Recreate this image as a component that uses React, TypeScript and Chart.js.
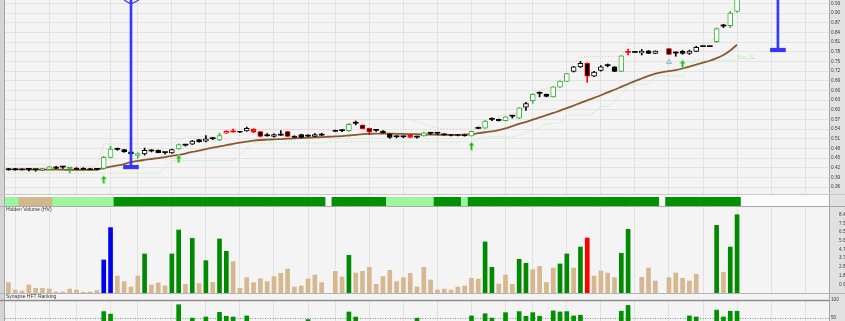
import React, { useEffect, useRef } from 'react';
import { Chart, registerables } from 'chart.js';

Chart.register(...registerables);

// ---------- categories ----------
const CATEGORY_COUNT = 121;
const days: string[] = Array.from({ length: CATEGORY_COUNT }, (_, i) => `D${i + 1}`);
const weekStarts = [1, 6, 10, 15, 19, 24, 29, 34, 39, 44, 48, 53, 58, 63, 68, 73, 77, 82, 87, 92, 97, 102, 107, 112, 117];

// ---------- price series ----------
const openPrices = [
  .417, .417, .416, .415, .414, .413, .415, .423, .422, .418,
  .419, .419, .417, .415, .418, .452, .477, .476, .469, .458,
  .463, .472, .474, .467, .466, .478, .490, .493, .507, .502,
  .510, .506, .527, .531, .532, .534, .540, .532, .519, .517,
  .521, .532, .518, .523, .518, .517, .521, null, .536, .535,
  .535, .558, .552, .542, .536, .534, .524, .516, .516, .521,
  .515, .519, .527, .527, .522, .522, .522, .522, .519, .542,
  .543, .570, .570, .566, .580, .574, .608, .628, .651, .648,
  .640, .670, .688, .719, .733, .744, .704, .722, .737, .733,
  .719, .778, .778, .776, .783, .775, null, .790, .776, .781,
  .775, .781, .796, .796, .811, .860, .861, .905,
];
const highPrices = [
  .418, .418, .417, .415, .414, .416, .424, .424, .422, .419,
  .420, .420, .418, .417, .455, .487, .481, .477, .470, .466,
  .481, .476, .475, .467, .478, .494, .493, .505, .508, .520,
  .514, .527, .535, .540, .533, .546, .541, .533, .526, .525,
  .535, .533, .519, .524, .522, .526, .527, null, .537, .538,
  .557, .565, .553, .543, .539, .535, .525, .519, .518, .524,
  .518, .530, .528, .528, .525, .523, .523, .523, .534, .546,
  .566, .575, .571, .579, .581, .607, .623, .649, .655, .649,
  .672, .690, .713, .735, .750, .746, .719, .737, .742, .734,
  .768, .788, .778, .787, .784, .783, null, .791, .780, .784,
  .785, .797, .796, .796, .854, .865, .905, .970,
];
const lowPrices = [
  .412, .412, .412, .410, .409, .412, .414, .417, .418, .404,
  .414, .414, .413, .413, .415, .450, .474, .468, .461, .450,
  .459, .469, .466, .462, .464, .477, .487, .492, .499, .500,
  .507, .504, .526, .530, .529, .533, .529, .515, .518, .515,
  .520, .516, .513, .513, .517, .516, .520, null, .532, .532,
  .533, .553, .540, .523, .533, .527, .511, .513, .513, .513,
  .512, .518, .523, .523, .521, .519, .519, .518, .518, .541,
  .542, .566, .565, .565, .574, .572, .598, .620, .640, .640,
  .639, .669, .687, .717, .731, .685, .703, .720, .733, .718,
  .718, .770, .778, .770, .774, .774, null, .771, .766, .772,
  .772, .780, .796, .796, .809, .855, .855, .903,
];
const closePrices = [
  .414, .413, .413, .415, .414, .415, .423, .418, .422, .418,
  .415, .415, .414, .415, .452, .478, .477, .469, .463, .464,
  .474, .472, .467, .467, .476, .492, .490, .503, .500, .510,
  .510, .520, .533, .531, .530, .542, .530, .517, .519, .523,
  .521, .517, .514, .514, .518, .523, .521, null, .533, .535,
  .555, .558, .541, .531, .536, .528, .514, .516, .516, .514,
  .515, .528, .527, .527, .522, .520, .520, .519, .533, .542,
  .565, .570, .566, .578, .580, .606, .619, .648, .651, .641,
  .671, .689, .712, .733, .744, .704, .717, .733, .737, .719,
  .767, .778, .778, .782, .775, .782, null, .772, .776, .775,
  .782, .794, .796, .796, .852, .860, .900, .960,
];
const candleStyles = [
  'B', 'B', 'B', 'D', 'D', 'W', 'G', 'B', 'D', 'DG',
  'B', 'B', 'B', 'D', 'G', 'G', 'D', 'B', 'B', 'G',
  'W', 'D', 'B', 'D', 'W', 'G', 'D', 'W', 'B', 'W',
  'D', 'G', 'RH', 'DR', 'B', 'W', 'R', 'RB', 'D', 'W',
  'D', 'RB', 'B', 'B', 'D', 'W', 'D', '', 'B', 'D',
  'G', 'D', 'RB', 'RB', 'D', 'B', 'B', 'D', 'D', 'R',
  'D', 'G', 'D', 'D', 'D', 'B', 'B', 'B', 'G', 'D',
  'G', 'D', 'B', 'G', 'D', 'G', 'W', 'G', 'D', 'B',
  'G', 'G', 'G', 'W', 'W', 'RB', 'W', 'W', 'D', 'B',
  'G', 'DR', 'D', 'W', 'B', 'W', '', 'RB', 'D', 'B',
  'W', 'W', 'D', 'D', 'G', 'D', 'G', 'G',
];
const movingAverage = [
  .415, .415, .415, .414, .414, .414, .414, .414, .414, .413,
  .413, .413, .413, .414, .419, .423, .427, .431, .437, .441,
  .444, .447, .450, .453, .457, .460, .464, .469, .473, .478,
  .482, .486, .490, .494, .498, .501, .504, .506, .507, .508,
  .509, .510, .511, .512, .513, .514, .515, .516, .517, .518,
  .520, .522, .524, .525, .526, .526, .526, .525, .525, .524,
  .524, .523, .523, .522, .522, .522, .522, .523, .524, .527,
  .530, .533, .537, .542, .549, .556, .562, .569, .576, .583,
  .590, .597, .605, .613, .621, .629, .637, .645, .654, .662,
  .671, .680, .689, .697, .705, .712, .717, .720, .723, .728,
  .734, .740, .746, .752, .760, .770, .784, .802,
];
const upperStop = [
  .431, .431, .431, .431, .431, .431, .424, .424, .424, .424,
  .424, .424, .424, .424, .494, .494, .494, .494, .494, .494,
  .494, .494, .494, .494, .494, .506, .515, .515, .515, .515,
  .515, .515, .538, .538, .538, .538, .538, .538, .538, .538,
  .538, .538, .538, .538, .538, .538, .538, .538, .538, .538,
  .555, .569, .569, .569, .569, .569, .569, .569, .569, .569,
  .563, .556, .549, .543, .540, .540, .540, .540, .540, .548,
  .565, .572, .580, .586, .589, .590, .620, .648, .660, .667,
  .670, .690, .720, .745, .762, .765, .765, .765, .765, .765,
  .765, .806, .806, .806, .806, .806, .806, .806, .806, .806,
  .806, .806, .806, .806, .840, .863, .900, .950,
];
const buyStop = [
  .403, .403, .403, .403, .403, .403, .403, .403, .403, .403,
  .403, .403, .403, .403, .403, .403, .403, .403, .403, .403,
  .403, .403, .403, .420, .442, .442, .442, .442, .442, .442,
  .442, .442, .442, .442, .460, .480, .497, .497, .497, .497,
  .497, .497, .497, .497, .497, .497, .496, .500, .500, .500,
  .500, .500, .500, .500, .500, .500, .500, .500, .500, .500,
  .500, .500, .500, .500, .500, .500, .500, .500, .500, .508,
  .516, .516, .516, .516, .516, .520, .528, .535, .545, .556,
  .558, .558, .584, .584, .584, .584, .590, .610, .610, .625,
  .650, .674, .679, .679, .679, .705, .705, .705, .705, .705,
  .740, .754, .754, .754, .754, .754, .754, .754,
];
const arrowIndices = [14, 25, 68, 99];
const arrowPrices = [0.383, 0.447, 0.487, 0.742];
const bellIndex = 97;
const bellPrice = 0.748;
const targetIndices = [18, 113];
const targetLevels = [0.422, 0.7855];
const priceTicks = [0.36, 0.39, 0.42, 0.45, 0.48, 0.51, 0.54, 0.57, 0.60, 0.63, 0.66, 0.69, 0.72, 0.75, 0.78, 0.81, 0.84, 0.87, 0.90, 0.93];
const PRICE_MIN = 0.3352;
const PRICE_MAX = 0.9407;

// ---------- ribbon ----------
const ribbonStates = [
  'L', 'L', 'T', 'T', 'T', 'T', 'T', 'L', 'L', 'L',
  'L', 'L', 'L', 'L', 'L', 'L', 'D', 'D', 'D', 'D',
  'D', 'D', 'D', 'D', 'D', 'D', 'D', 'D', 'D', 'D',
  'D', 'D', 'D', 'D', 'D', 'D', 'D', 'D', 'D', 'D',
  'D', 'D', 'D', 'D', 'D', 'D', 'D', '', 'D', 'D',
  'D', 'D', 'D', 'D', 'D', 'D', 'L', 'L', 'L', 'L',
  'L', 'L', 'L', 'D', 'D', 'D', 'D', 'L', 'D', 'D',
  'D', 'D', 'D', 'D', 'D', 'D', 'D', 'D', 'D', 'D',
  'D', 'D', 'D', 'D', 'D', 'D', 'D', 'D', 'D', 'D',
  'D', 'D', 'D', 'D', 'D', 'D', '', 'D', 'D', 'D',
  'D', 'D', 'D', 'D', 'D', 'D', 'D', 'D',
];

// ---------- hidden volume (millions) ----------
const volumes = [
  1.12, 0.32, 0.22, 0.87, 0.50, 0.50, 0.43, 0.11, 0.11, 0.43,
  0.32, 0.07, 0.11, 0.25, 3.57, 7.07, 1.84, 1.23, 0.65, 1.84,
  4.22, 0.87, 1.08, 0.76, 4.22, 6.81, 0.94, 5.91, 1.01, 3.50,
  1.15, 5.84, 4.51, 3.39, 0.50, 1.66, 1.12, 1.55, 1.23, 1.77,
  2.13, 2.60, 0.65, 0.76, 1.51, 1.95, 1.12, null, 2.34, 1.73,
  4.07, 2.16, 2.34, 2.78, 0.94, 1.77, 2.45, 1.23, 1.66, 2.13,
  0.65, 2.78, 1.41, 0.32, 0.43, 0.32, 0.65, 0.76, 1.59, 1.51,
  5.52, 2.78, 0.97, 1.95, 0.94, 3.64, 3.21, 2.52, 2.88, 1.15,
  2.70, 3.14, 4.22, 2.70, 4.97, 5.95, 1.84, 2.38, 2.16, 1.66,
  4.29, 6.89, null, 1.70, 2.70, 1.30, null, 1.66, 2.16, 1.59,
  1.30, 2.02, null, null, 7.32, 2.24, 4.97, 8.47,
];
const volumeKinds = [
  'T', 'T', 'T', 'T', 'T', 'T', 'T', 'T', 'T', 'T',
  'T', 'T', 'T', 'T', 'B', 'B', 'T', 'T', 'T', 'T',
  'G', 'T', 'T', 'T', 'G', 'G', 'T', 'G', 'T', 'G',
  'T', 'G', 'G', 'T', 'T', 'T', 'T', 'T', 'T', 'T',
  'T', 'T', 'T', 'T', 'T', 'T', 'T', '', 'T', 'T',
  'G', 'T', 'T', 'T', 'T', 'T', 'T', 'T', 'T', 'T',
  'T', 'T', 'T', 'T', 'T', 'T', 'T', 'T', 'T', 'T',
  'G', 'G', 'T', 'T', 'T', 'G', 'G', 'T', 'T', 'T',
  'T', 'G', 'G', 'T', 'G', 'R', 'T', 'T', 'T', 'T',
  'G', 'G', '', 'T', 'T', 'T', '', 'T', 'T', 'T',
  'T', 'T', '', '', 'G', 'T', 'G', 'G',
];
const volumeTicks = [0.941, 1.882, 2.823, 3.764, 4.706, 5.647, 6.588, 7.529, 8.47];
const volumeTickLabels = ['0.94M', '1.88M', '2.82M', '3.76M', '4.71M', '5.65M', '6.59M', '7.53M', '8.47M'];

// ---------- HFT ranking ----------
const n = null;
const hftRanking = [
  n, n, n, n, n, n, n, n, n, n,
  n, n, n, n, 68, 61, n, n, n, n,
  n, n, n, n, n, 87, n, 50, n, 53,
  n, 66, 55, 53, n, 56, n, n, n, n,
  n, n, n, n, 46, n, n, n, n, n,
  67, 53, n, n, n, n, n, n, n, n,
  50, n, n, n, n, n, n, n, 56, n,
  62, 50, n, 65, n, 68, 55, 65, 55, n,
  70, 67, 68, 56, 58, n, n, n, n, n,
  69, 85, n, n, n, n, n, n, n, n,
  56, 53, n, n, 72, 53, 69, 69,
];
const hftTicks = [50, 100];

// ---------- styling ----------
const AXIS_W = 16;
const LEFT = 5;
const W = 845;
const FONT = { family: 'Liberation Sans', size: 4.7 };
const STYLE: Record<string, { fill: string; edge: string; wick: string; bw: number }> = {
  G: { fill: '#ffffff', edge: '#36b436', wick: '#36b436', bw: 1 },
  W: { fill: '#ffffff', edge: '#000000', wick: '#000000', bw: 1 },
  B: { fill: '#000000', edge: '#000000', wick: '#000000', bw: 1 },
  RB: { fill: '#000000', edge: '#ff0000', wick: '#ff0000', bw: 1 },
  R: { fill: '#ff1a1a', edge: '#ff0000', wick: '#ff0000', bw: 1 },
  RH: { fill: '#ffffff', edge: '#ff0000', wick: '#ff0000', bw: 1 },
  D: { fill: '#000000', edge: '#000000', wick: '#000000', bw: 0 },
  DR: { fill: '#ff0000', edge: '#ff0000', wick: '#ff0000', bw: 0 },
  DG: { fill: '#36b436', edge: '#36b436', wick: '#36b436', bw: 0 },
};
const RIBBON_COLORS: Record<string, string> = { L: '#9cf79c', T: '#d4b68e', D: '#009200' };
const VOLUME_COLORS: Record<string, string> = { T: '#d6b78f', G: '#008a00', B: '#0000f0', R: '#ff0000' };

const framePlugin = {
  id: 'frame',
  beforeDraw(chart: any, _a: any, o: any) {
    const { ctx, chartArea: a, width, height } = chart;
    ctx.save();
    ctx.fillStyle = o.plotBg || '#f4f4f4';
    ctx.fillRect(0, 0, width, height);
    ctx.fillStyle = '#e1e1e1';
    ctx.fillRect(a.right, 0, width - a.right, height);
    ctx.fillStyle = '#d4d4d4';
    ctx.fillRect(0, 0, LEFT, height);
    ctx.strokeStyle = '#a6a6a6';
    ctx.lineWidth = 1;
    ctx.beginPath();
    ctx.moveTo(LEFT - 0.5, 0); ctx.lineTo(LEFT - 0.5, height);
    ctx.moveTo(a.right + 0.5, 0); ctx.lineTo(a.right + 0.5, height);
    ctx.stroke();
    ctx.restore();
  },
  afterDraw(chart: any, _a: any, o: any) {
    const { ctx, width } = chart;
    ctx.save();
    (o.lines || []).forEach((l: any) => {
      ctx.strokeStyle = l.color;
      ctx.lineWidth = l.width;
      ctx.beginPath();
      ctx.moveTo(l.x0 ?? 0, l.y);
      ctx.lineTo(l.x1 ?? width, l.y);
      ctx.stroke();
    });
    if (o.title) {
      ctx.fillStyle = '#333333';
      ctx.font = '5px "Liberation Sans"';
      ctx.textBaseline = 'middle';
      ctx.fillText(o.title, 6, o.titleY);
    }
    ctx.restore();
  },
};

const overlayPlugin = {
  id: 'overlay',
  afterDatasetsDraw(chart: any) {
    const { ctx, scales } = chart;
    const x = scales.x;
    const y = scales.y;
    const bx = x.getPixelForValue(targetIndices[0]);
    ctx.save();
    ctx.strokeStyle = '#3a3aff';
    ctx.lineWidth = 1.2;
    ctx.beginPath();
    ctx.moveTo(bx - 7, 0);
    ctx.lineTo(bx, 4);
    ctx.lineTo(bx + 8, 0);
    ctx.stroke();
    const last = buyStop.length - 1;
    ctx.fillStyle = '#b3eeb3';
    ctx.font = '5px "Liberation Sans"';
    ctx.textBaseline = 'middle';
    ctx.fillText('Buy_SL', x.getPixelForValue(last) + 1, y.getPixelForValue(buyStop[last]) - 2.5);
    ctx.restore();
  },
};

function xAxis(grid: boolean) {
  return {
    type: 'category',
    offset: true,
    grid: {
      display: grid,
      offset: false,
      drawTicks: false,
      color: (c: any) => (weekStarts.includes(c.index) ? '#e2e2e2' : 'rgba(0,0,0,0)'),
    },
    border: { display: false },
    ticks: { display: false, autoSkip: false },
  };
}

const fitRight = (ax: any) => {
  ax.width = AXIS_W;
  ax.paddingTop = 0;
  ax.paddingBottom = 0;
};

function makeArrow(fill: string, stroke: string) {
  const c = document.createElement('canvas');
  c.width = 7;
  c.height = 9;
  const g = c.getContext('2d')!;
  g.beginPath();
  g.moveTo(3.5, 0.5);
  g.lineTo(6.5, 4);
  g.lineTo(4.7, 4);
  g.lineTo(4.7, 8.5);
  g.lineTo(2.3, 8.5);
  g.lineTo(2.3, 4);
  g.lineTo(0.5, 4);
  g.closePath();
  g.fillStyle = fill;
  g.fill();
  g.strokeStyle = stroke;
  g.lineWidth = 0.8;
  g.stroke();
  return c;
}

const baseOptions = {
  responsive: false,
  animation: false as const,
  events: [] as any[],
};

export default function App() {
  const priceRef = useRef<HTMLCanvasElement>(null);
  const ribbonRef = useRef<HTMLCanvasElement>(null);
  const volRef = useRef<HTMLCanvasElement>(null);
  const hftRef = useRef<HTMLCanvasElement>(null);

  useEffect(() => {
    const charts: Chart[] = [];
    const st = (i: number) => STYLE[candleStyles[i]] || STYLE.D;
    const bodies = days.map((_, i) => {
      const o = openPrices[i];
      const c = closePrices[i];
      return o == null || c == null ? null : [Math.min(o, c), Math.max(o, c)];
    });
    const wicks = days.map((_, i) => (lowPrices[i] == null ? null : [lowPrices[i], highPrices[i]]));
    const stems = days.map((_, i) => {
      const k = targetIndices.indexOf(i);
      return k < 0 ? null : [targetLevels[k], 1.2];
    });
    const caps = days.map((_, i) => {
      const k = targetIndices.indexOf(i);
      return k < 0 ? null : [targetLevels[k] - 0.0055, targetLevels[k] + 0.0055];
    });
    const arrows = days.map((_, i) => {
      const k = arrowIndices.indexOf(i);
      return k < 0 ? null : arrowPrices[k];
    });
    const bell = days.map((_, i) => (i === bellIndex ? bellPrice : null));
    const arrowImg = makeArrow('#22aa22', '#aef5ae');

    charts.push(
      new Chart(priceRef.current!, {
        type: 'bar',
        data: {
          labels: days,
          datasets: [
            { type: 'line', data: upperStop, borderColor: '#ffb4bf', borderWidth: 1, borderDash: [1, 2], pointRadius: 0, order: 6 } as any,
            { type: 'line', data: buyStop, borderColor: '#9ced9c', borderWidth: 1, borderDash: [1, 2], pointRadius: 0, order: 6 } as any,
            { type: 'line', data: movingAverage, borderColor: '#8a5a2e', borderWidth: 1.8, pointRadius: 0, tension: 0.3, order: 5 } as any,
            {
              data: wicks, grouped: false, barThickness: 1, order: 3,
              backgroundColor: days.map((_, i) => st(i).wick), borderWidth: 0,
            },
            {
              data: bodies, grouped: false, barThickness: 5, order: 2, minBarLength: 1,
              backgroundColor: days.map((_, i) => st(i).fill),
              borderColor: days.map((_, i) => st(i).edge),
              borderWidth: days.map((_, i) => st(i).bw),
              borderSkipped: false,
            },
            { data: stems, grouped: false, barThickness: 2, backgroundColor: '#3636ff', borderWidth: 0, order: 1 },
            { data: caps, grouped: false, barThickness: 15, backgroundColor: '#3636ff', borderWidth: 0, order: 1 },
            { type: 'line', data: arrows, showLine: false, pointStyle: arrowImg, pointRadius: 4, order: 0 } as any,
            {
              type: 'line', data: bell, showLine: false, pointStyle: 'triangle', pointRadius: 3,
              pointBackgroundColor: '#c0e4ec', pointBorderColor: '#8cc0cc', pointBorderWidth: 1, order: 0,
            } as any,
          ],
        },
        options: {
          ...baseOptions,
          layout: { autoPadding: false, padding: { left: LEFT, right: 0, top: 0, bottom: 0 } },
          plugins: {
            legend: { display: false }, tooltip: { enabled: false },
            frame: { lines: [{ y: 194.5, color: '#c8c8c8', width: 1 }] },
          } as any,
          scales: {
            x: xAxis(true) as any,
            y: {
              position: 'right', min: PRICE_MIN, max: PRICE_MAX,
              afterBuildTicks: (ax: any) => { ax.ticks = priceTicks.map((v) => ({ value: v })); },
              afterFit: fitRight,
              grid: { color: '#e4e4e4', drawTicks: false },
              border: { display: false },
              ticks: { font: FONT, color: '#3c3c3c', padding: 2, autoSkip: false, callback: (v: any) => Number(v).toFixed(2) },
            },
          },
        } as any,
        plugins: [framePlugin, overlayPlugin],
      })
    );

    charts.push(
      new Chart(ribbonRef.current!, {
        type: 'bar',
        data: {
          labels: days,
          datasets: [
            {
              data: ribbonStates.map((s) => (s ? 1 : null)),
              backgroundColor: ribbonStates.map((s) => RIBBON_COLORS[s] || 'transparent'),
              barPercentage: 1, categoryPercentage: 1, borderWidth: 0,
            },
          ],
        },
        options: {
          ...baseOptions,
          layout: { autoPadding: false, padding: { left: LEFT, right: 0, top: 2, bottom: 1 } },
          plugins: {
            legend: { display: false }, tooltip: { enabled: false },
            frame: { plotBg: '#fbfbfb', lines: [{ y: 11.5, color: '#a8a8a8', width: 1 }] },
          } as any,
          scales: {
            x: xAxis(false) as any,
            y: {
              position: 'right', min: 0, max: 1,
              afterFit: fitRight,
              grid: { display: false }, border: { display: false }, ticks: { display: false },
            },
          },
        } as any,
        plugins: [framePlugin],
      })
    );

    charts.push(
      new Chart(volRef.current!, {
        type: 'bar',
        data: {
          labels: days,
          datasets: [
            {
              data: volumes,
              backgroundColor: volumeKinds.map((k) => VOLUME_COLORS[k] || 'transparent'),
              barThickness: 4, borderWidth: 0,
            },
          ],
        },
        options: {
          ...baseOptions,
          layout: { autoPadding: false, padding: { left: LEFT, right: 0, top: 0, bottom: 0 } },
          plugins: {
            legend: { display: false }, tooltip: { enabled: false },
            frame: { title: 'Hidden Volume (HV)', titleY: 3 },
          } as any,
          scales: {
            x: xAxis(true) as any,
            y: {
              position: 'right', min: 0, max: 9.3,
              afterBuildTicks: (ax: any) => { ax.ticks = volumeTicks.map((v) => ({ value: v })); },
              afterFit: fitRight,
              grid: { display: false },
              border: { display: false },
              ticks: { font: FONT, color: '#3c3c3c', padding: 2, autoSkip: false, callback: (_v: any, i: number) => volumeTickLabels[i] },
            },
          },
        } as any,
        plugins: [framePlugin],
      })
    );

    charts.push(
      new Chart(hftRef.current!, {
        type: 'bar',
        data: {
          labels: days,
          datasets: [{ data: hftRanking, backgroundColor: '#009000', barThickness: 4, borderWidth: 0 }],
        },
        options: {
          ...baseOptions,
          layout: { autoPadding: false, padding: { left: LEFT, right: 0, top: 7, bottom: 0 } },
          plugins: {
            legend: { display: false }, tooltip: { enabled: false },
            frame: {
              title: 'Synapse HFT Ranking', titleY: 3.5,
              lines: [
                { y: 0.5, color: '#b4b4b4', width: 1 },
                { y: 7.5, color: '#8c8c8c', width: 1.3, x1: 829 },
              ],
            },
          } as any,
          scales: {
            x: xAxis(true) as any,
            y: {
              position: 'right', min: 42, max: 100,
              afterBuildTicks: (ax: any) => { ax.ticks = hftTicks.map((v) => ({ value: v })); },
              afterFit: fitRight,
              grid: { drawTicks: false, color: (c: any) => (c.tick && c.tick.value === 50 ? '#8a8a8a' : 'rgba(0,0,0,0)') },
              border: { display: false, dash: [1, 1.5] },
              ticks: { font: FONT, color: '#3c3c3c', padding: 2, autoSkip: false },
            },
          },
        } as any,
        plugins: [framePlugin],
      })
    );

    return () => charts.forEach((c) => c.destroy());
  }, []);

  const cs = (top: number): React.CSSProperties => ({ position: 'absolute', left: 0, top, display: 'block' });
  return (
    <div style={{ position: 'fixed', left: 0, top: 0, width: W, height: 321, overflow: 'hidden', background: '#f4f4f4' }}>
      <canvas ref={priceRef} width={W} height={195} style={cs(0)} />
      <canvas ref={ribbonRef} width={W} height={12} style={cs(195)} />
      <canvas ref={volRef} width={W} height={86} style={cs(207)} />
      <canvas ref={hftRef} width={W} height={28} style={cs(293)} />
    </div>
  );
}
